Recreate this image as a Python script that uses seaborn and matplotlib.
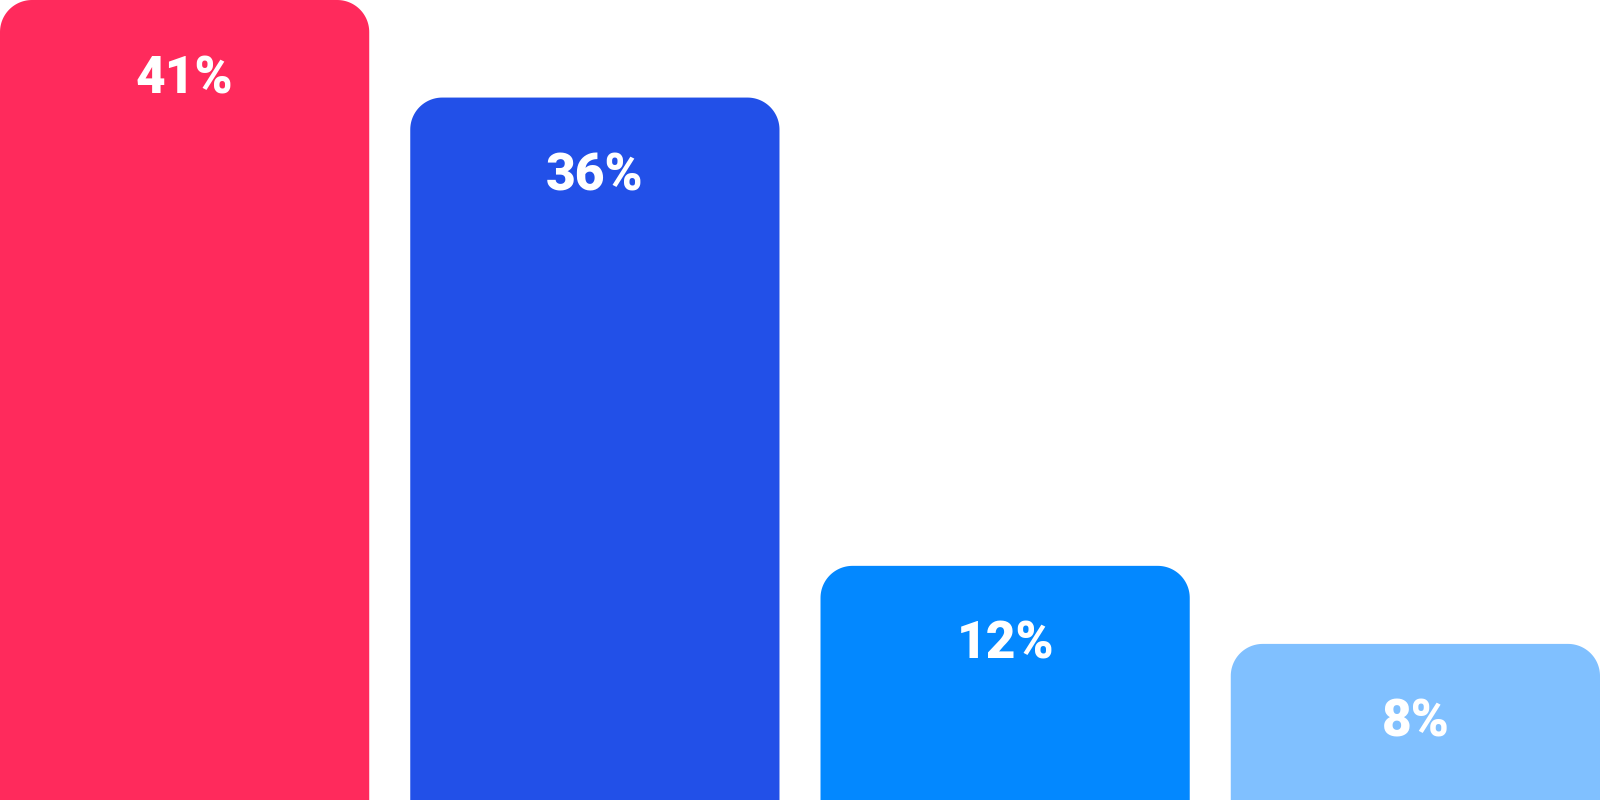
import numpy as np
import pandas as pd
import matplotlib.pyplot as plt
import seaborn as sns
from matplotlib.patches import Polygon

# Chart data
categories = ["A", "B", "C", "D"]
values = [41, 36, 12, 8]
colors = ["#FF2A5C", "#2250E8", "#0388FF", "#80C0FF"]

df = pd.DataFrame({"category": categories, "value": values})

sns.set_style("white")
plt.rcParams["font.family"] = ["Roboto", "DejaVu Sans"]

fig = plt.figure(figsize=(16, 8), dpi=100)
ax = fig.add_axes([0, 0, 1, 1])

sns.barplot(data=df, x="category", y="value", hue="category",
            palette=colors, width=0.9, saturation=1, legend=False, ax=ax)

ax.set_xlim(-0.45, len(categories) - 1 + 0.45)
ax.set_ylim(0, max(values))
ax.axis("off")

# swap the plain bars for bars with rounded top corners
px_per_x = 1600 / (len(categories) - 1 + 0.9)
px_per_y = 800 / max(values)
radius_px = 32
rx = radius_px / px_per_x
ry = radius_px / px_per_y
t = np.linspace(0, np.pi / 2, 30)

for bar, val in zip(list(ax.patches), values):
    x0 = bar.get_x()
    w = bar.get_width()
    h = bar.get_height()
    col = bar.get_facecolor()
    bar.remove()
    # right corner then left corner
    right = np.column_stack([x0 + w - rx + rx * np.cos(t), h - ry + ry * np.sin(t)])
    left = np.column_stack([x0 + rx - rx * np.sin(t), h - ry + ry * np.cos(t)])
    pts = np.vstack([[x0 + w, -5], right, left, [x0, -5]])
    ax.add_patch(Polygon(pts, closed=True, facecolor=col, edgecolor="none"))
    ax.annotate(f"{val}%", xy=(x0 + w / 2, h),
                xytext=(0, -93 * 72 / 100), textcoords="offset points",
                ha="center", va="baseline", color="white",
                fontsize=37, fontweight="black")

fig.savefig("out.png", dpi=100)
